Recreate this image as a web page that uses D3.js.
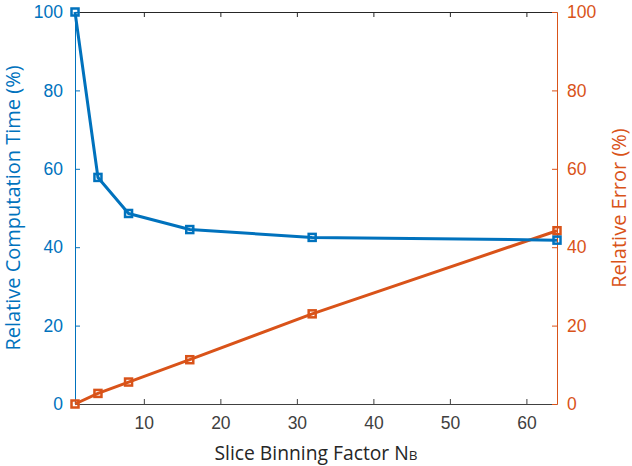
<!DOCTYPE html>
<html>
<head>
<meta charset="utf-8">
<script src="https://cdn.jsdelivr.net/npm/d3@7"></script>
<style>
  html, body { margin: 0; padding: 0; background: #fff; }
  svg { display: block; font-family: "Open Sans", "DejaVu Sans", sans-serif; }
</style>
</head>
<body>
<svg id="chart" width="632" height="466"></svg>
<script>
// Slice binning factor vs. computation time and error
const binning = [1, 4, 8, 16, 32, 64];
const computeTime = [100, 57.8, 48.6, 44.5, 42.5, 41.8];
const relError = [0, 2.7, 5.6, 11.3, 23.0, 44.2];
const xTicks = [10, 20, 30, 40, 50, 60];
const yTicks = [0, 20, 40, 60, 80, 100];

const blue = "#0072BD", orange = "#D95319", axisGray = "#404040";
const margin = { left: 75, right: 75, top: 12, bottom: 62 };
const W = 632, H = 466;

const svg = d3.select("#chart");
const x = d3.scaleLinear().domain([1, 64]).range([margin.left, W - margin.right]);
const yL = d3.scaleLinear().domain([0, 100]).range([H - margin.bottom, margin.top]);
const yR = d3.scaleLinear().domain([0, 100]).range([H - margin.bottom, margin.top]);

const tickLen = 5;
const fontSize = 17.5;

// bottom axis
const bottomAxis = svg.append("g").attr("transform", `translate(0,${yL(0)})`)
  .call(d3.axisBottom(x).tickValues(xTicks).tickSizeInner(-tickLen).tickSizeOuter(0).tickPadding(13));
bottomAxis.select(".domain").attr("stroke", axisGray);
bottomAxis.selectAll(".tick line").attr("stroke", axisGray);
bottomAxis.selectAll("text").attr("fill", axisGray).style("font-size", fontSize + "px");

// top edge with mirrored ticks
const topAxis = svg.append("g").attr("transform", `translate(0,${yL(100)})`)
  .call(d3.axisTop(x).tickValues(xTicks).tickSizeInner(-tickLen).tickSizeOuter(0).tickFormat(""));
topAxis.select(".domain").attr("stroke", "#262626");
topAxis.selectAll(".tick line").attr("stroke", "#262626");

// left axis
const leftAxis = svg.append("g").attr("transform", `translate(${x(1)},0)`)
  .call(d3.axisLeft(yL).tickValues(yTicks).tickSizeInner(-tickLen).tickSizeOuter(0).tickPadding(12));
leftAxis.select(".domain").attr("stroke", blue);
leftAxis.selectAll(".tick line").attr("stroke", blue);
leftAxis.selectAll("text").attr("fill", blue).style("font-size", fontSize + "px");

// right axis
const rightAxis = svg.append("g").attr("transform", `translate(${x(64)},0)`)
  .call(d3.axisRight(yR).tickValues(yTicks).tickSizeInner(-tickLen).tickSizeOuter(0).tickPadding(10));
rightAxis.select(".domain").attr("stroke", orange);
rightAxis.selectAll(".tick line").attr("stroke", orange);
rightAxis.selectAll("text").attr("fill", orange).style("font-size", fontSize + "px");

// series: thick line with small square markers
function drawSeries(vals, yScale, color) {
  const pts = binning.map((b, i) => [b, vals[i]]);
  const line = d3.line().x(d => x(d[0])).y(d => yScale(d[1]));
  svg.append("path").datum(pts).attr("d", line)
    .attr("fill", "none").attr("stroke", color).attr("stroke-width", 3)
    .attr("stroke-linejoin", "round");
  const s = 7;
  svg.append("g").selectAll("rect").data(pts).join("rect")
    .attr("x", d => x(d[0]) - s / 2).attr("y", d => yScale(d[1]) - s / 2)
    .attr("width", s).attr("height", s)
    .attr("fill", "none").attr("stroke", color).attr("stroke-width", 2.5);
}
drawSeries(relError, yR, orange);
drawSeries(computeTime, yL, blue);

// axis titles
svg.append("text").attr("transform", `translate(20,${(yL(0) + yL(100)) / 2}) rotate(-90)`)
  .attr("text-anchor", "middle").attr("fill", blue).style("font-size", "20px")
  .text("Relative Computation Time (%)");
svg.append("text").attr("transform", `translate(626,${(yL(0) + yL(100)) / 2}) rotate(-90)`)
  .attr("text-anchor", "middle").attr("fill", orange).style("font-size", "20px")
  .text("Relative Error (%)");
const xt = svg.append("text").attr("x", (x(1) + x(64)) / 2).attr("y", 460)
  .attr("text-anchor", "middle").attr("fill", "#262626").style("font-size", "19.3px");
xt.append("tspan").text("Slice Binning Factor N");
xt.append("tspan").style("font-size", "13.5px").text("B");
</script>
</body>
</html>
